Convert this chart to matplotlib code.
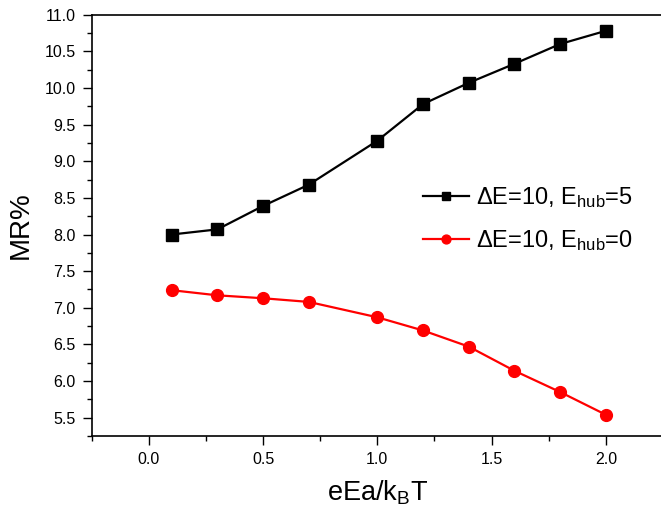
import numpy as np
import matplotlib
matplotlib.use("Agg")
import matplotlib.pyplot as plt
from matplotlib.ticker import MultipleLocator

plt.rcParams['font.family'] = ['Liberation Sans', 'DejaVu Sans']
plt.rcParams['mathtext.fontset'] = 'custom'
plt.rcParams['mathtext.rm'] = 'Liberation Sans'
plt.rcParams['mathtext.it'] = 'Liberation Sans'

# data
x = [0.1, 0.3, 0.5, 0.7, 1.0, 1.2, 1.4, 1.6, 1.8, 2.0]
mr_hub5 = [8.00, 8.07, 8.39, 8.68, 9.28, 9.78, 10.07, 10.33, 10.60, 10.78]
mr_hub0 = [7.24, 7.17, 7.13, 7.08, 6.87, 6.69, 6.47, 6.14, 5.85, 5.54]
labels = [r'$\Delta$E=10, E$_{\mathrm{hub}}$=5', r'$\Delta$E=10, E$_{\mathrm{hub}}$=0']

fig = plt.figure(figsize=(6.61, 5.08), dpi=100)
ax = fig.add_axes([91.7 / 661, 1 - 436 / 508, (663 - 91.7) / 661, (436 - 14.7) / 508])

ax.plot(x, mr_hub5, color='black', lw=1.6, marker='s', ms=8, label=labels[0])
ax.plot(x, mr_hub0, color='red', lw=1.6, marker='o', ms=8.5, label=labels[1])

ax.set_xlim(-0.25, 2.25)
ax.set_ylim(5.25, 11.0)
ax.xaxis.set_major_locator(MultipleLocator(0.5))
ax.xaxis.set_minor_locator(MultipleLocator(0.25))
ax.yaxis.set_major_locator(MultipleLocator(0.5))
ax.yaxis.set_minor_locator(MultipleLocator(0.25))
ax.xaxis.set_major_formatter(plt.FormatStrFormatter('%.1f'))
ax.yaxis.set_major_formatter(plt.FormatStrFormatter('%.1f'))

ax.tick_params(which='major', direction='out', length=6.5, width=1, labelsize=11.5, pad=5)
ax.tick_params(which='minor', direction='out', length=3.5, width=1)
for s in ax.spines.values():
    s.set_linewidth(1.2)

ax.set_xlabel(r'eEa/k$_{\mathrm{B}}$T', fontsize=19.5, labelpad=8)
ax.set_ylabel('MR%', fontsize=20, labelpad=8)

ax.legend(loc='upper left', bbox_to_anchor=(423 / 661, 1 - 185 / 508),
          bbox_transform=fig.transFigure, frameon=False, fontsize=17,
          handlelength=1.95, handletextpad=0.3, labelspacing=0.78,
          markerscale=0.75, borderaxespad=0, borderpad=0)

fig.savefig('out.png', dpi=100)
